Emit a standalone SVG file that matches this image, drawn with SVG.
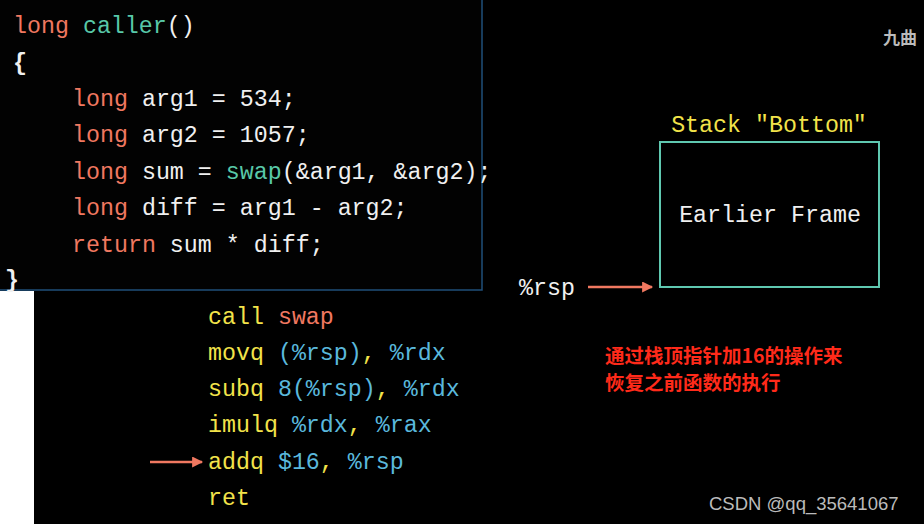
<svg xmlns="http://www.w3.org/2000/svg" width="924" height="524" viewBox="0 0 924 524">
<defs>
<style>
.c{font-family:"Liberation Mono",monospace;font-size:23.3px;fill:#f0f0f0}
.k{fill:#f07860}.y{fill:#f2e34a}.b{fill:#5ab8dc}.t{fill:#58c8a8}
.cn{font-family:"Noto Sans CJK SC",sans-serif;font-weight:bold;font-size:19.5px;fill:#ff2a1a}
</style>
<marker id="ah" viewBox="0 0 10 10" refX="9" refY="5" markerWidth="12" markerHeight="11" orient="auto" markerUnits="userSpaceOnUse"><path d="M0,0L10,5L0,10z" fill="#f07860"/></marker>
</defs>
<rect width="924" height="524" fill="#000"/>
<rect x="0" y="291" width="34" height="233" fill="#fff"/>
<g id="caller">
<rect x="-2" y="-2" width="484" height="292" fill="#020202" stroke="#1f4f7a" stroke-width="1.5"/>
<text class="c" x="13" y="33"><tspan class="k">long</tspan> <tspan class="t">caller</tspan>()</text>
<text class="c" x="13" y="70" font-weight="bold">{</text>
<text class="c" x="72" y="106"><tspan class="k">long</tspan> arg1 = 534;</text>
<text class="c" x="72" y="142"><tspan class="k">long</tspan> arg2 = 1057;</text>
<text class="c" x="72" y="179"><tspan class="k">long</tspan> sum = <tspan class="t">swap</tspan>(&amp;arg1, &amp;arg2);</text>
<text class="c" x="72" y="215"><tspan class="k">long</tspan> diff = arg1 - arg2;</text>
<text class="c" x="72" y="252"><tspan class="k">return</tspan> sum * diff;</text>
<text class="c" x="5" y="287" font-weight="bold">}</text>
</g>
<g id="asm">
<text class="c y" x="208" y="324">call <tspan class="k">swap</tspan></text>
<text class="c y" x="208" y="360">movq <tspan class="b">(%rsp)</tspan>, <tspan class="b">%rdx</tspan></text>
<text class="c y" x="208" y="396">subq <tspan class="b">8(%rsp)</tspan>, <tspan class="b">%rdx</tspan></text>
<text class="c y" x="208" y="432">imulq <tspan class="b">%rdx</tspan>, <tspan class="b">%rax</tspan></text>
<text class="c y" x="208" y="469">addq <tspan class="b">$16</tspan>, <tspan class="b">%rsp</tspan></text>
<text class="c y" x="208" y="505">ret</text>
</g>
<g id="stack">
<text class="c y" x="769" y="132" text-anchor="middle">Stack "Bottom"</text>
<rect x="660" y="142" width="219" height="145" fill="none" stroke="#5fc8b0" stroke-width="2"/>
<text class="c" x="770" y="222" text-anchor="middle">Earlier Frame</text>
</g>
<g id="rsp"><text class="c" x="519" y="295">%rsp</text></g>
<g id="connectors" stroke="#f07860" stroke-width="2.5">
<line x1="588" y1="287" x2="652" y2="287" marker-end="url(#ah)"/>
<line x1="150" y1="462" x2="202" y2="462" marker-end="url(#ah)"/>
</g>
<g id="note">
<text class="cn" x="605" y="363">通过栈顶指针加16的操作来</text>
<text class="cn" x="605" y="390">恢复之前函数的执行</text>
</g>
<text x="883" y="44" font-family="Noto Sans CJK SC,sans-serif" font-weight="bold" font-size="17" fill="#bbb">九曲</text>
<text x="709" y="510" font-family="Liberation Sans,sans-serif" font-size="18.5" fill="#bbb">CSDN @qq_35641067</text>
</svg>
